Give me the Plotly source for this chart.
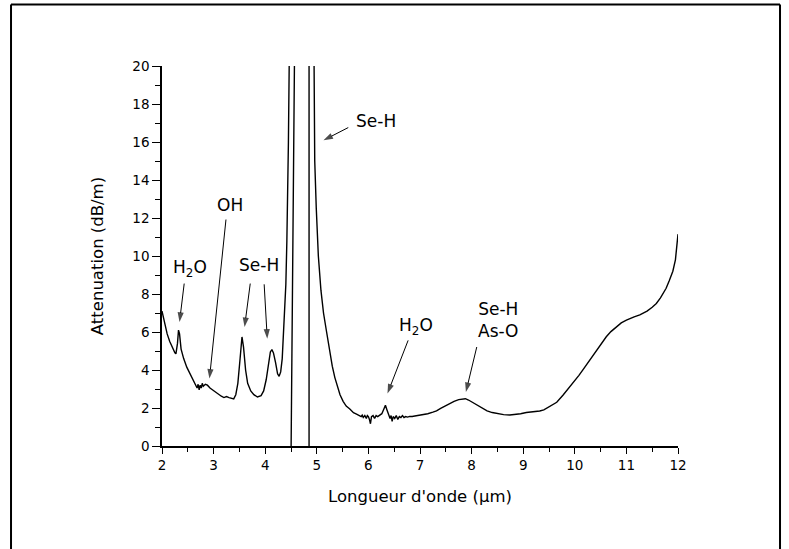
import plotly.graph_objects as go

# Wavelength (µm) and attenuation (dB/m)
wavelength = [
    2.00, 2.05, 2.10, 2.15, 2.20, 2.25, 2.27, 2.30, 2.32, 2.34, 2.37, 2.42, 2.48, 2.55, 2.61,
    2.65, 2.68, 2.70, 2.72, 2.74, 2.76, 2.78, 2.80, 2.84, 2.88, 2.93, 3.00, 3.08, 3.15, 3.20,
    3.25, 3.30, 3.35, 3.39, 3.43, 3.47, 3.51, 3.55, 3.58, 3.62, 3.66, 3.72, 3.78, 3.85, 3.92,
    3.97, 4.02, 4.06, 4.10, 4.13, 4.16, 4.20, 4.24, 4.27, 4.30, 4.33, 4.37, 4.40, 4.42, 4.44,
    4.45, 4.465, 4.48, 4.576, 4.499, 4.85, 4.85, 4.94, 4.942, 4.96, 4.99, 5.03, 5.08, 5.13,
    5.19, 5.23, 5.26, 5.30, 5.35, 5.40, 5.45, 5.51, 5.57, 5.64, 5.71, 5.77, 5.82, 5.86, 5.88,
    5.90, 5.93, 5.96, 5.98,
    6.00, 6.02, 6.04, 6.06, 6.09, 6.12, 6.15, 6.18, 6.22, 6.26, 6.30, 6.33, 6.36, 6.39, 6.42,
    6.44, 6.46, 6.48, 6.51, 6.54, 6.57, 6.60, 6.63, 6.66, 6.69, 6.72, 6.76, 6.80, 6.85, 6.90,
    6.95, 7.00, 7.06, 7.15, 7.25, 7.32, 7.40, 7.50, 7.58, 7.66, 7.75, 7.82, 7.88, 7.94, 8.02,
    8.10, 8.20, 8.30, 8.40, 8.50, 8.62, 8.74, 8.85, 8.95, 9.06, 9.15, 9.25, 9.32, 9.40, 9.50,
    9.65, 9.77, 9.87, 9.97, 10.08, 10.16, 10.29, 10.40, 10.55, 10.61, 10.70, 10.81, 10.90,
    11.00, 11.06, 11.15, 11.26, 11.32, 11.40, 11.50, 11.58, 11.66, 11.72, 11.77, 11.83, 11.90,
    11.95, 12.00,
]
attenuation = [
    7.10, 6.40, 5.90, 5.50, 5.15, 4.90, 4.85, 5.40, 6.10, 5.90, 5.10, 4.60, 4.15, 3.75, 3.40,
    3.20, 3.05, 3.25, 2.95, 3.20, 3.05, 3.30, 3.15, 3.25, 3.20, 3.05, 2.90, 2.75, 2.62, 2.55,
    2.60, 2.55, 2.50, 2.48, 2.70, 3.30, 4.50, 5.74, 5.20, 4.00, 3.30, 2.90, 2.70, 2.58, 2.65,
    2.90, 3.50, 4.20, 4.95, 5.07, 4.90, 4.40, 3.80, 3.67, 3.90, 4.60, 6.90, 8.50, 10.8, 13.5,
    16.0, 20.0, 26.0, 23.0, -1.0, -1.0, 23.0, 23.0, 20.0, 15.0, 12.5, 10.0, 8.20, 7.00,
    6.00, 5.30, 4.80, 4.20, 3.60, 3.10, 2.70, 2.35, 2.10, 1.95, 1.75, 1.68, 1.62, 1.55, 1.62,
    1.50, 1.60, 1.45, 1.60,
    1.55, 1.40, 1.17, 1.55, 1.60, 1.45, 1.60, 1.55, 1.62, 1.70, 1.95, 2.14, 1.90, 1.65, 1.45,
    1.60, 1.30, 1.55, 1.45, 1.60, 1.40, 1.55, 1.50, 1.60, 1.50, 1.55, 1.52, 1.56, 1.55, 1.58,
    1.60, 1.62, 1.63, 1.70, 1.78, 1.85, 1.98, 2.12, 2.25, 2.35, 2.44, 2.48, 2.49, 2.42, 2.30,
    2.18, 2.00, 1.85, 1.76, 1.70, 1.65, 1.63, 1.65, 1.70, 1.76, 1.78, 1.80, 1.84, 1.90, 2.05,
    2.30, 2.67, 3.00, 3.35, 3.72, 4.02, 4.52, 4.98, 5.55, 5.75, 6.02, 6.28, 6.48,
    6.62, 6.70, 6.80, 6.90, 6.97, 7.10, 7.30, 7.50, 7.80, 8.10, 8.30, 8.70, 9.20,
    9.80, 11.15,
]

# Band labels: text and text position (x, y)
label_text = ["H<sub>2</sub>O", "OH", "Se-H", "Se-H", "H<sub>2</sub>O", "Se-H<br>As-O"]
label_x = [2.55, 3.32, 3.88, 6.15, 6.92, 8.51]
label_y = [9.35, 12.66, 9.51, 17.08, 6.30, 6.64]

# Arrows: tail (x, y) and tip (x, y)
arrow_tail_x = [2.43, 3.24, 3.71, 3.98, 5.61, 6.77, 8.10]
arrow_tail_y = [8.55, 11.92, 8.55, 8.51, 16.76, 5.56, 5.21]
arrow_tip_x = [2.34, 2.92, 3.60, 4.04, 5.13, 6.37, 7.89]
arrow_tip_y = [6.53, 3.55, 6.26, 5.65, 16.09, 2.76, 2.84]

x_ticks = [2, 3, 4, 5, 6, 7, 8, 9, 10, 11, 12]
y_ticks = [0, 2, 4, 6, 8, 10, 12, 14, 16, 18, 20]

FONT = "DejaVu Sans"

fig = go.Figure()
fig.add_trace(go.Scatter(
    x=wavelength, y=attenuation, mode="lines",
    line=dict(color="black", width=1.4),
    showlegend=False, hoverinfo="skip",
))

for tx, ty, hx, hy in zip(arrow_tail_x, arrow_tail_y, arrow_tip_x, arrow_tip_y):
    fig.add_trace(go.Scatter(
        x=[tx, hx], y=[ty, hy], mode="lines+markers",
        line=dict(color="black", width=1),
        marker=dict(symbol="arrow", size=[0, 10], angleref="previous",
                    color="black", line=dict(width=0)),
        showlegend=False, hoverinfo="skip", cliponaxis=False,
    ))

annotations = []
for t, x, y in zip(label_text, label_x, label_y):
    annotations.append(dict(
        x=x, y=y, xref="x", yref="y", text=t, showarrow=False,
        font=dict(family=FONT, size=17, color="black"),
        xanchor="center", yanchor="middle",
    ))

fig.update_layout(
    width=789, height=549,
    margin=dict(l=162, r=111, t=66, b=103),
    paper_bgcolor="white", plot_bgcolor="white",
    font=dict(family=FONT, size=13, color="black"),
    annotations=annotations,
    shapes=[
        dict(type="line", xref="paper", yref="paper", x0=-0.2926, x1=1.1977,
             y0=1.162, y1=1.162, line=dict(color="black", width=2)),
        dict(type="line", xref="paper", yref="paper", x0=-0.2926, x1=-0.2926,
             y0=1.162, y1=-0.35, line=dict(color="black", width=2)),
        dict(type="line", xref="paper", yref="paper", x0=1.1977, x1=1.1977,
             y0=1.162, y1=-0.35, line=dict(color="black", width=2)),
    ],
    xaxis=dict(
        range=[2, 12], tickvals=x_ticks, ticks="outside", ticklen=6, tickwidth=1,
        tickcolor="black", showline=True, linecolor="black", linewidth=1.5,
        showgrid=False, zeroline=False, mirror=False,
        minor=dict(dtick=0.5, ticks="outside", ticklen=4, tickwidth=1, tickcolor="black", showgrid=False),
        tickfont=dict(family=FONT, size=13.5),
        title=dict(text="Longueur d'onde (µm)", font=dict(family=FONT, size=16.5), standoff=18),
    ),
    yaxis=dict(
        range=[0, 20], tickvals=y_ticks, ticks="outside", ticklen=8, tickwidth=1,
        tickcolor="black", showline=True, linecolor="black", linewidth=1.5,
        showgrid=False, zeroline=False, mirror=False,
        minor=dict(dtick=1, ticks="outside", ticklen=5, tickwidth=1, tickcolor="black", showgrid=False),
        tickfont=dict(family=FONT, size=13.5),
        title=dict(text="Attenuation (dB/m)", font=dict(family=FONT, size=16.5), standoff=25),
    ),
)

fig.write_html("out.html", config={"displayModeBar": False},
               post_script="document.body.style.margin='0px';")
